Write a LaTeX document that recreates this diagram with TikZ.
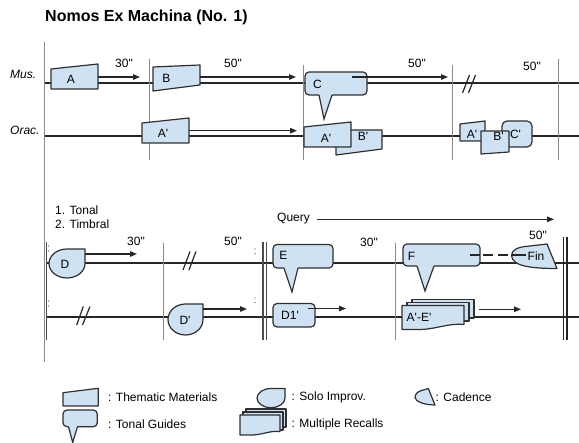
\documentclass[tikz,border=0pt]{standalone}
\usepackage{fontspec}
\newfontfamily\lsans{Liberation Sans}
\usetikzlibrary{arrows.meta}
\definecolor{lblue}{HTML}{CFE2F3}
\definecolor{bord}{HTML}{2F2F2F}
\definecolor{barc}{HTML}{8A8A8A}
\newcommand\callout[8]{%
  \draw[shp, rounded corners=4pt] (#1,#2) rectangle (#3,#4);
  \fill[lblue] (#5,#4-0.9) -- (#7,#8) -- (#6,#4-0.9) -- cycle;
  \draw[bord, line width=1.2pt, line join=miter] (#5,#4) -- (#7,#8) -- (#6,#4);}
\newcommand\solo[4]{%
  \draw[shp] (#3,#2) -- (#3,{(#2+#4)/2})
   .. controls (#3,{(#2+#4)/2+0.5523*(#4-#2)/2}) and ({(#1+#3)/2+0.5523*(#3-#1)/2},#4) .. ({(#1+#3)/2},#4)
   .. controls ({(#1+#3)/2-0.5523*(#3-#1)/2},#4) and (#1,{(#2+#4)/2+0.5523*(#4-#2)/2}) .. (#1,{(#2+#4)/2})
   .. controls (#1,{(#2+#4)/2-0.5523*(#4-#2)/2}) and ({(#1+#3)/2-0.5523*(#3-#1)/2},#2) .. ({(#1+#3)/2},#2) -- cycle;}
\begin{document}
\begin{tikzpicture}[x=1pt,y=-1pt,
  shp/.style={draw=bord, fill=lblue, line width=1.2pt, line join=round},
  staff/.style={draw=black!85, line width=1.3pt},
  bar/.style={draw=barc, line width=0.8pt},
  dbar/.style={draw=black!70, line width=1.1pt},
  arr/.style={draw=black!85, line width=1.3pt, -{Triangle[length=7pt,width=5.5pt]}},
  lbl/.style={font=\lsans\fontsize{12}{14}\selectfont, inner sep=0pt},
  slash/.style={draw=black!85, line width=1.2pt},
  rdot/.style={fill=black!70}]
\useasboundingbox (0,0) rectangle (579,443);
% title
\node[lbl, font=\lsans\bfseries\fontsize{16}{19}\selectfont, anchor=base west] (title) at (45,21.7) {Nomos Ex Machina (No. 1)};
% ---------------- upper system ----------------
\draw[staff] (44,83) -- (579,83);
\draw[staff] (44,136) -- (579,136);
\draw[bar] (44,42) -- (44,362);
\draw[bar] (149,59) -- (149,160);
\draw[bar] (303,65) -- (303,160);
\draw[bar] (452,65) -- (452,160);
\draw[bar] (558,59) -- (558,160);
\node[lbl, font=\lsans\itshape\fontsize{12}{14}\selectfont, anchor=base west] (mus) at (10,79) {Mus.};
\node[lbl, font=\lsans\itshape\fontsize{12}{14}\selectfont, anchor=base west] (orac) at (10,135) {Orac.};
% A
\draw[shp] (51,69) -- (98,64) -- (98,89) -- (51,89) -- cycle;
\node[lbl] (lA) at (71,79) {A};
\draw[arr] (98,77) -- (140,77);
\node[lbl] (t30a) at (124,63) {30"};
% B
\draw[shp] (153,67) -- (200,65) -- (200,85) -- (153,91) -- cycle;
\node[lbl] (lB) at (166.5,78) {B};
\draw[arr] (200,77) -- (296,77);
\node[lbl] (t50a) at (233,63) {50"};
% C
\callout{305}{72}{367}{95}{319}{332}{324}{119}
\node[lbl] (lC) at (317.5,84) {C};
\draw[arr] (352,77) -- (448,77);
\node[lbl] (t50b) at (417,63) {50"};
\draw[slash] (462.5,93) -- (469.5,75);
\draw[slash] (468.5,93) -- (475.5,75);
\node[lbl] (t50c) at (532,66) {50"};
% Orac row
\draw[shp] (142,123) -- (189,118) -- (189,143) -- (142,143) -- cycle;
\node[lbl] (lAp1) at (163,133) {A'};
\draw[arr] (189,130.7) -- (297,130.7);
\draw[shp] (336,130) -- (382,130) -- (382,149) -- (336,155) -- cycle;
\draw[shp] (304,127) -- (351,122) -- (351,147) -- (304,147) -- cycle;
\node[lbl] (lAp2) at (326,138) {A'};
\node[lbl] (lBp2) at (363,136) {B'};
\draw[shp, rounded corners=5pt] (502,121) rectangle (532,147);
\draw[shp] (460,124) -- (485,121) -- (485,141) -- (460,141) -- cycle;
\draw[shp] (481,131) -- (509,131) -- (509,152) -- (481,154) -- cycle;
\node[lbl] (lAp3) at (472,134) {A'};
\node[lbl] (lBp3) at (498.5,136.5) {B'};
\node[lbl] (lCp3) at (515.5,134) {C'};
% ---------------- lower system ----------------
\node[lbl, anchor=base west] (ton) at (55,215) {1. Tonal};
\node[lbl, anchor=base west] (tim) at (55,229) {2. Timbral};
\draw[staff] (46,263) -- (579,263);
\draw[staff] (46,317) -- (579,317);
\draw[dbar] (46.8,242) -- (46.8,340);
\fill[rdot] (48.5,246) circle (0.6) (48.5,251) circle (0.6) (48.5,301) circle (0.6) (48.5,306) circle (0.6);
\draw[bar] (163,243) -- (163,340);
\draw[dbar] (263,242) -- (263,340);
\draw[dbar] (266.3,242) -- (266.3,340);
\fill[rdot] (255,249) circle (0.6) (255,253.5) circle (0.6) (255,298) circle (0.6) (255,302.5) circle (0.6);
\draw[bar] (395,243) -- (395,340);
\draw[draw=black!85, line width=1.4pt] (563.3,237) -- (563.3,340);
\draw[draw=black!85, line width=1.4pt] (567,237) -- (567,340);
% Query
\node[lbl, anchor=base west] (query) at (277,222) {Query};
\draw[arr] (317,219.3) -- (554,219.3);
% D
\solo{49}{249}{85}{278}
\node[lbl] (lD) at (65,264) {D};
\draw[arr] (85,254) -- (137,254);
\node[lbl] (t30b) at (136,241) {30"};
\node[lbl] (t50d) at (233,241) {50"};
\draw[slash] (183,270) -- (190,251.5);
\draw[slash] (189,270) -- (196,251.5);
\draw[slash] (76.7,325) -- (83.3,306.5);
\draw[slash] (82.5,325) -- (90,306.5);
% D'
\solo{168}{304}{203}{335}
\node[lbl] (lDp) at (185,320.5) {D'};
\draw[arr] (203,309) -- (247,309);
% E
\callout{273}{244.5}{333}{268}{284}{298}{292}{292}
\node[lbl] (lE) at (283.5,255.5) {E};
% D1'
\draw[shp, rounded corners=4pt] (273,303.5) rectangle (315,327);
\node[lbl] (lD1) at (290,315) {D1'};
\draw[arr] (308,308.5) -- (346,308.5);
\node[lbl] (t30c) at (369,242) {30"};
% F
\callout{403}{244}{480}{266}{417}{434}{425}{291}
\node[lbl] (lF) at (411.5,256) {F};
\draw[staff] (470,255) -- (480,255) (483,255) -- (493,255) (498,255) -- (508,255);
% Fin
\draw[shp] (547,244) -- (557,268.5) .. controls (545,268.5) and (535,268) .. (527,266.5)
  .. controls (518,265) and (511.5,261) .. (511.5,255.5)
  .. controls (511.5,250) and (518,247) .. (527,246.3) -- cycle;
\draw[staff] (511.5,255) -- (526,255);
\node[lbl] (lFin) at (536,256) {Fin};
\node[lbl] (t50e) at (538,235) {50"};
% A'-E'
\draw[shp] (412,299.5) rectangle (474,318);
\draw[shp] (407,302.5) rectangle (469,321);
\draw[shp] (402,305.5) -- (464,305.5) -- (464,324.5) .. controls (446,323) and (436,330) .. (416,329.5) -- (402,329.5) -- cycle;
\node[lbl] (lAE) at (419,317) {A'-E'};
\draw[arr] (479,309.3) -- (521,309.3);
% ---------------- legend ----------------
\draw[shp] (63,392.7) -- (98.3,388.3) -- (98.3,406) -- (63,406) -- cycle;
\node[lbl, anchor=west] (legT) at (108,397) {: Thematic Materials};
\solo{257}{388.5}{285}{407.7}
\node[lbl, anchor=west] (legS) at (291.5,397) {: Solo Improv.};
\draw[shp] (428.3,388.5) -- (435,405) .. controls (429,405) and (424,404) .. (420.5,402.5)
  .. controls (417,401) and (415,399) .. (415,397.3)
  .. controls (415,394) and (418,391.5) .. (421.5,390.5) -- cycle;
\node[lbl, anchor=west] (legC) at (435.5,397) {: Cadence};
\callout{63}{410}{97.3}{426.7}{68.5}{77.5}{72.7}{442.5}
\node[lbl, anchor=west] (legG) at (108,424.3) {: Tonal Guides};
\draw[shp] (246,409) rectangle (286,427);
\draw[shp] (243,412) rectangle (283,430);
\draw[shp] (240,415) -- (280,415) -- (280,431.5) .. controls (268,430.5) and (262,435.5) .. (249,435) -- (240,435) -- cycle;
\node[lbl, anchor=west] (legM) at (291.5,424) {: Multiple Recalls};
\end{tikzpicture}
\end{document}
